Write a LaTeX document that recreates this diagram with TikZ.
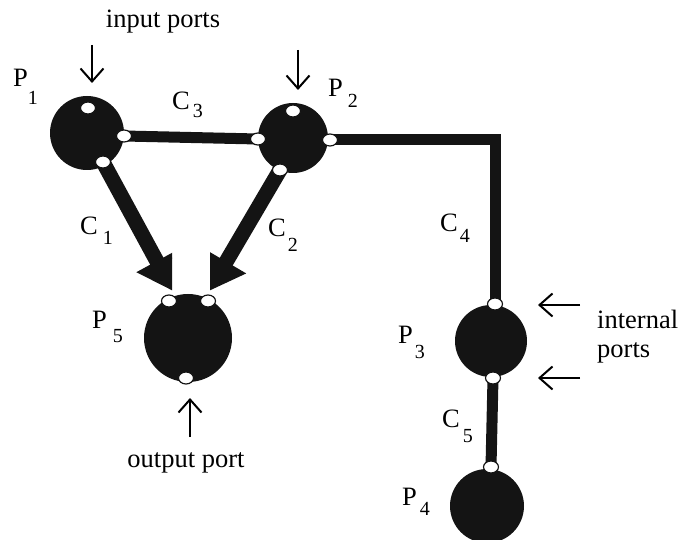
\documentclass[tikz,border=0pt]{standalone}
\usepackage{fontspec}
\setmainfont{Liberation Serif}
\usetikzlibrary{arrows.meta,shapes.geometric,backgrounds}
% letter with a lowered index: #1 letter, #2 index, #3 drop (pt), #4 gap (pt)
\newcommand\lab[4]{#1\kern#4pt\raisebox{-#3pt}{\fontsize{20}{20}\selectfont #2}}
\begin{document}
\begin{tikzpicture}[x=1pt,y=-1pt,
  proc/.style={circle,fill=black!92,draw=none,minimum size=#1,inner sep=0pt},
  port/.style={ellipse,fill=white,draw=black!92,line width=1.2pt,
               minimum width=15pt,minimum height=12pt,inner sep=0pt},
  chan/.style={line width=11pt,draw=black!92},
  flow/.style={line width=15pt,draw=black!92,fill=black!92,
               -{Triangle[length=34pt,width=44pt]}},
  pointer/.style={line width=2pt,-{Straight Barb[length=13pt,width=23pt]}},
  txt/.style={font=\fontsize{26.5}{28}\selectfont,inner sep=0pt},
  tag/.style={txt,anchor=base west}]
\clip (0,0) rectangle (686,540);

% processes
\node[proc=74pt] (P1) at (87,133) {};
\node[proc=70pt] (P2) at (293,138) {};
\node[proc=88pt] (P5) at (188,338) {};
\node[proc=72pt] (P3) at (491,341) {};
\node[proc=74pt] (P4) at (487,506) {};

% ports
\node[port] (p1in)  at (88,108)  {};
\node[port] (p1r)   at (124,136) {};
\node[port] (p1c)   at (103,162) {};
\node[port] (p2in)  at (293,111) {};
\node[port] (p2l)   at (258,139) {};
\node[port] (p2r)   at (330,140) {};
\node[port] (p2c)   at (280,170) {};
\node[port] (p5a)   at (169,301) {};
\node[port] (p5b)   at (208,301) {};
\node[port] (p5out) at (186,378) {};
\node[port] (p3in)  at (495,304) {};
\node[port] (p3out) at (493,378) {};
\node[port] (p4in)  at (491,467) {};

% heads of the two flows into P5
\coordinate (t1) at (173,291);
\coordinate (t2) at (209,291);

% channels
\begin{scope}[on background layer]
  \draw[chan] (p1r.center) -- (p2l.center);
  \draw[chan] (p2r.center) -| (p3in.center);
  \draw[chan] (p3out.center) -- (p4in.center);
  \begin{scope}
    \clip (0,0) rectangle (172,540);
    \draw[flow] (p1c.center) -- (t1);
  \end{scope}
  \begin{scope}
    \clip (210,0) rectangle (686,540);
    \draw[flow] (p2c.center) -- (t2);
  \end{scope}
\end{scope}

% pointers
\coordinate (a1s) at (92,45);   \coordinate (a1e) at (92,83);
\coordinate (a2s) at (298,50);  \coordinate (a2e) at (298,90);
\coordinate (a3s) at (580,305); \coordinate (a3e) at (538,305);
\coordinate (a4s) at (580,378); \coordinate (a4e) at (538,378);
\coordinate (a5s) at (190,437); \coordinate (a5e) at (190,398);
\draw[pointer] (a1s) -- (a1e);
\draw[pointer] (a2s) -- (a2e);
\draw[pointer] (a3s) -- (a3e);
\draw[pointer] (a4s) -- (a4e);
\draw[pointer] (a5s) -- (a5e);

% texts
\node[txt,anchor=base] (inlab)  at (163,28)  {input ports};
\node[txt,anchor=base] (outlab) at (186,467) {output port};
\node[tag] (intlab1) at (597,328) {internal};
\node[tag] (intlab2) at (597,357) {ports};

% labels
\node[tag] (lP1) at (13,87)   {\lab{P}{1}{18}{0}};
\node[tag] (lP2) at (328,97)  {\lab{P}{2}{11}{5}};
\node[tag] (lC3) at (172,110) {\lab{C}{3}{8}{3}};
\node[tag] (lC1) at (80,235)  {\lab{C}{1}{10}{5}};
\node[tag] (lC2) at (268,237) {\lab{C}{2}{15}{2}};
\node[tag] (lC4) at (440,232) {\lab{C}{4}{11}{2}};
\node[tag] (lP5) at (92,328)  {\lab{P}{5}{14}{6}};
\node[tag] (lP3) at (398,344) {\lab{P}{3}{15}{2}};
\node[tag] (lC5) at (442,427) {\lab{C}{5}{15}{3}};
\node[tag] (lP4) at (402,505) {\lab{P}{4}{10}{3}};
\end{tikzpicture}
\end{document}
